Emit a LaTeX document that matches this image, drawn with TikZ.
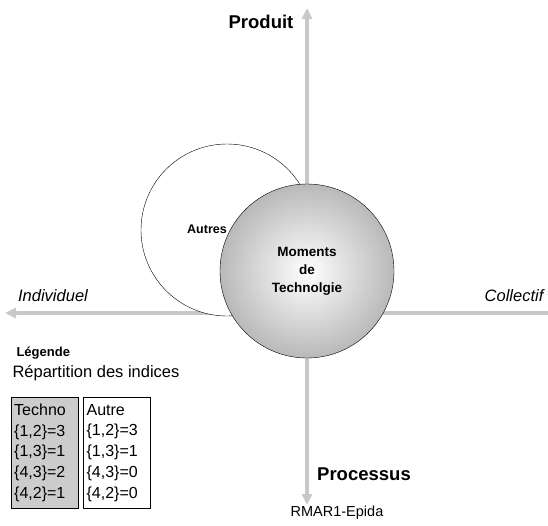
\documentclass[tikz,border=0pt]{standalone}
\usepackage{fontspec}
\setmainfont{Liberation Sans}
\usetikzlibrary{arrows.meta,positioning}
\definecolor{axisgray}{RGB}{200,200,200}
\tikzset{
  % axes
  axisline/.style={line width=3.5pt,axisgray,-{Triangle[length=11pt,width=10pt]}},
  axislinebi/.style={line width=3.5pt,axisgray,{Triangle[length=11pt,width=10pt]}-{Triangle[length=11pt,width=10pt]}},
  poletxt/.style={font=\fontsize{18.5}{20}\selectfont\bfseries},
  sidetxt/.style={font=\fontsize{16.5}{18}\selectfont\itshape},
  % circles
  autrescirc/.style={circle,draw,fill=white,minimum size=172pt,inner sep=0pt},
  techcirc/.style={circle,draw,inner color=white,outer color=gray!55,minimum size=174pt,inner sep=0pt,
    align=center,font=\fontsize{13.5}{18}\selectfont\bfseries},
  % legend
  legbox/.style={draw,align=left,anchor=north west,inner xsep=3pt,inner ysep=0pt,text width=61pt,
    minimum height=111pt,font=\fontsize{16}{20.75}\selectfont},
}
\begin{document}
\begin{tikzpicture}[x=1pt,y=-1pt]
\useasboundingbox (0,0) rectangle (548,525);

%% ---- axes ----
\coordinate (top) at (307,8);
\coordinate (bot) at (307,505);
\coordinate (left) at (5,313);
\coordinate (right) at (548,313);
\draw[axislinebi] (bot) -- (top);
\draw[axisline] (right) -- (left);

%% ---- circles ----
\node[autrescirc] (autres) at (227,230) {};
\node[font=\fontsize{12.5}{14}\selectfont\bfseries] (autrestxt) at (207,229) {Autres};
\node[techcirc] (tech) at (307,271) {Moments\\de\\Technolgie};

%% ---- axis labels ----
\node[poletxt] (produit) at (261,22) {Produit};
\node[poletxt] (processus) at (364,474) {Processus};
\node[sidetxt] (indiv) at (53,296) {Individuel};
\node[sidetxt] (collectif) at (514,296) {Collectif};
\node[font=\fontsize{14.5}{16}\selectfont] (source) at (337,513) {RMAR1-Epida};

%% ---- legend ----
\node[font=\fontsize{13}{14}\selectfont\bfseries,anchor=west] (leg) at (13,353) {Légende};
\node[font=\fontsize{16.5}{18}\selectfont,anchor=west] (rep) at (9,373) {Répartition des indices};
\node[legbox,fill=gray!40] (techno) at (11,397) {Techno\\\{1,2\}=3\\\{1,3\}=1\\\{4,3\}=2\\\{4,2\}=1};
\node[legbox,fill=white,right=5pt of techno] (autre) {Autre\\\{1,2\}=3\\\{1,3\}=1\\\{4,3\}=0\\\{4,2\}=0};
\end{tikzpicture}
\end{document}
